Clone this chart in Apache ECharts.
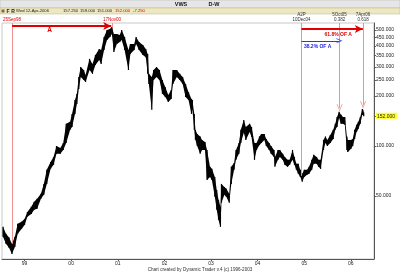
<!DOCTYPE html>
<html><head><meta charset="utf-8">
<script src="https://cdn.jsdelivr.net/npm/echarts@6/dist/echarts.min.js"></script>
<style>html,body{margin:0;padding:0;background:#fff}#c{width:400px;height:274px}</style>
</head><body><div id="c"></div>
<script>
// ---- data ----
const dates = ['1998-07-16','1998-08-08','1998-09-01','1998-09-24','1998-10-17','1998-11-08','1998-12-08','1999-01-01','1999-01-23','1999-02-23','1999-03-17','1999-04-09','1999-05-09','1999-06-01','1999-06-24','1999-07-24','1999-08-16','1999-09-08','1999-10-08','1999-10-31','1999-11-23','1999-12-24','2000-01-08','2000-01-31','2000-02-15','2000-03-01','2000-03-16','2000-04-08','2000-04-23','2000-05-24','2000-06-16','2000-07-09','2000-08-08','2000-08-23','2000-09-15','2000-10-08','2000-10-31','2000-11-15','2000-12-01','2000-12-24','2001-01-16','2001-01-31','2001-02-23','2001-03-25','2001-04-09','2001-05-09','2001-05-24','2001-06-16','2001-07-16','2001-08-08','2001-08-23','2001-09-01','2001-09-24','2001-10-08','2001-10-31','2001-11-23','2001-12-16','2002-01-08','2002-01-31','2002-02-23','2002-03-09','2002-04-08','2002-05-01','2002-05-24','2002-06-16','2002-07-09','2002-08-01','2002-08-08','2002-08-23','2002-09-01','2002-09-15','2002-10-08','2002-10-23','2002-11-15','2002-12-01','2002-12-24','2003-01-08','2003-01-31','2003-02-15','2003-03-01','2003-03-16','2003-03-24','2003-04-16','2003-05-01','2003-05-24','2003-06-09','2003-07-01','2003-07-16','2003-08-08','2003-08-23','2003-09-15','2003-10-01','2003-10-31','2003-11-15','2003-12-08','2003-12-24','2004-01-16','2004-01-31','2004-02-23','2004-03-09','2004-04-01','2004-04-16','2004-05-09','2004-05-16','2004-06-09','2004-06-24','2004-07-16','2004-08-01','2004-08-23','2004-09-09','2004-10-01','2004-10-16','2004-10-31','2004-11-15','2004-12-01','2004-12-16','2005-01-01','2005-01-23','2005-02-08','2005-03-01','2005-03-16','2005-04-08','2005-04-23','2005-05-09','2005-06-01','2005-06-16','2005-07-01','2005-07-24','2005-08-16','2005-09-01','2005-09-15','2005-10-01','2005-10-16','2005-10-31','2005-11-15','2005-12-01','2005-12-08','2006-01-01','2006-01-16','2006-01-31','2006-02-15','2006-03-01','2006-03-16','2006-04-01','2006-04-05','2006-04-12'];
const highs = [32.5,29.5,28.0,25.7,28.3,33.9,34.9,36.3,40.0,43.0,46.0,48.0,51.4,59.0,71.7,80.1,85.8,99.9,97.0,104.2,136,140,156,189,206,260,299,287,268,335,312,353,384,379,454,500,507,521,473,473,466,500,454,379,412,412,454,423,406,384,358,272,260,287,299,287,250,226,203,217,287,287,272,260,236,211,192,189,156,125,118,114,108.7,105.7,94.6,74.8,72.7,65.0,54.3,47.3,43.0,59.0,56.6,55.1,51.4,74.8,79.0,94.6,104.2,125,143.5,130,136,130,104.2,104.2,114,118,118,110,104.2,99.9,94.6,85.8,94.6,94.6,89.6,85.8,82.4,82.4,94.6,85.8,78.0,78.0,71.7,67.9,71.7,71.7,74.8,82.4,88.3,85.8,82.4,82.4,108.7,114,108.7,116.5,125,136,149.5,160.5,154,149.5,149.5,114,108.7,108.7,110.2,125,134,140,149.5,167,165,159];
const lows = [28.3,25.7,24.3,22.3,24.6,29.5,31.6,33.4,37.4,38.9,41.2,41.8,48.0,50.7,59.0,72.7,76.9,89.6,89.6,94.6,104.2,125,130,156,179,220,260,250,243,287,272,308,330,312,379,435,454,473,368,412,423,435,379,287,358,379,412,379,353,343,272,236,165,250,260,250,206,197,184,192,236,260,250,236,197,189,156,165,125,108.7,99.9,89.6,94.6,94.6,62.4,65.0,62.4,49.3,41.2,35.8,32.5,45.4,50.7,49.3,45.4,59.0,71.7,82.4,89.6,104.2,120,108.7,121.5,113.3,82.4,94.6,101.4,104.2,108.7,99.9,94.6,89.6,85.8,74.8,82.4,85.8,82.4,76.9,74.8,76.9,82.4,76.9,71.7,67.9,65.0,60.7,65.0,66.9,67.9,71.7,78.0,78.0,74.8,72.7,94.6,104.2,99.9,104.2,110.2,125,130,147.5,136,136,134,94.6,92.0,95.9,99.9,110.2,121.5,127,136,154,154,151];
const priceTicks = [50,100,152,200,250,300,350,400,450,500];
const yearTicks = ['1999-01-01','2000-01-01','2001-01-01','2002-01-01','2003-01-01','2004-01-01','2005-01-01','2006-01-01'];
const lastPrice = 152;
// annotations (time projections)
const vMarks = [
  {date:'1998-09-25', to:25.7, label:'25Sep98', red:true, arrow:false},
  {date:'2000-11-17', to:521, label:'17Nov00', red:true, arrow:false},
  {date:'2004-12-10', to:66.0, label:'A2P\n10Dec04', red:false, arrow:false},
  {date:'2005-10-05', to:169.6, label:'5Oct05\n0.382', red:false, arrow:true},
  {date:'2006-04-07', to:177, label:'7Apr06\n0.618', red:false, arrow:true}
];
const spans = [
  {from:'1998-09-25', to:'2000-11-10', level:528, color:'#e00000', width:2},
  {from:'2004-12-10', to:'2006-04-05', level:507, color:'#e00000', width:2},
  {from:'2004-12-10', to:'2005-10-03', level:430, color:'#3030ff', width:1}
];
const spanTexts = [
  {date:'1999-07-16', level:497, text:'A', color:'#e00000', size:6.5},
  {date:'2005-09-24', level:470, text:'61.8% OF A', color:'#e00000', size:5},
  {date:'2005-04-16', level:398, text:'38.2% OF A', color:'#2020e0', size:5}
];
const yMin = 20.8, yMax = 551;
const xMin = '1998-07-08', xMax = '2006-07-01';

// ---- chart ----
const L = Math.log10;
const T = d => { const p = d.split('-').map(Number); return Date.UTC(p[0], p[1]-1, p[2]); };
const ts = dates.map(T);
const chart = echarts.init(document.getElementById('c'), null, {renderer:'canvas'});
const FONT = 'Liberation Sans, Arial, sans-serif';
const chevron = 'path://M0,10 L5,0 L10,10 L8.6,10 L5,2.8 L1.4,10 Z';

const mlData = [];
vMarks.forEach(m => {
  mlData.push([
    {coord:[T(m.date), L(yMax)], symbol:'none',
     lineStyle:{color:'#f29090', width:1, type:'solid'},
     label:{show:true, position:'start', formatter:m.label, color:m.red?'#e00000':'#333',
            fontSize:4.5, lineHeight:4.6, distance:1, fontFamily:FONT}},
    {coord:[T(m.date), L(m.to)], symbol: m.arrow ? chevron : 'none', symbolSize:[6,7]}
  ]);
});
spans.forEach(s => {
  mlData.push([
    {coord:[T(s.from), L(s.level)], symbol:'none', lineStyle:{color:s.color, width:s.width, type:'solid'}, label:{show:false}},
    {coord:[T(s.to), L(s.level)], symbol: s.width>1 ? 'arrow' : chevron, symbolSize: s.width>1 ? [6,8] : [5,6]}
  ]);
});
const mpData = spanTexts.map(t => ({
  coord:[T(t.date), L(t.level)], symbol:'rect', symbolSize:0,
  label:{show:true, position:'inside', formatter:t.text, color:t.color, fontSize:t.size, fontWeight:'bold', fontFamily:FONT}
}));

const yTickVals = priceTicks.map(L);
const yearVals = yearTicks.map(T);
const hdr = (x, text, color) => ({type:'text', x, y:11.2, style:{text, fill:color||'#222', align:'left', verticalAlign:'middle', font:'4.2px Liberation Sans'}});

chart.setOption({
  animation:false,
  textStyle:{fontFamily:FONT},
  grid:{left:2, right:15, top:23, bottom:15, show:true, borderColor:'#c8c8c8', borderWidth:1},
  xAxis:{type:'value', min:T(xMin), max:T(xMax),
    axisLine:{show:true, lineStyle:{color:'#555', width:1}},
    axisTick:{show:true, customValues:yearVals, length:2, lineStyle:{color:'#555'}},
    axisLabel:{customValues:yearVals, fontSize:5, margin:2, color:'#222',
      formatter:v => String(new Date(v).getUTCFullYear()).slice(2)},
    splitLine:{show:false}},
  yAxis:{type:'value', position:'right', min:L(yMin), max:L(yMax),
    axisLine:{show:true, lineStyle:{color:'#555', width:1}},
    axisTick:{show:true, customValues:yTickVals, length:2, lineStyle:{color:'#555'}},
    axisLabel:{customValues:yTickVals, fontSize:5, margin:2, color:'#222',
      formatter:v => { const p = Math.pow(10,v); const s = p.toFixed(3);
        return Math.abs(p-lastPrice) < 0.5 ? '{hl|'+s+'}' : s; },
      rich:{hl:{backgroundColor:'#ffff20', fontSize:5, padding:[1,2,0,1], color:'#222'}}},
    splitLine:{show:false}},
  graphic:[
    {type:'rect', shape:{x:0,y:0,width:400,height:8}, style:{fill:'#e6e6e6', stroke:'#b0b0b0', lineWidth:0.5}, silent:true},
    {type:'text', x:181, y:4, style:{text:'VWS', fill:'#111', align:'center', verticalAlign:'middle', font:'bold 5.5px Liberation Sans'}},
    {type:'text', x:214, y:4, style:{text:'D-W', fill:'#111', align:'center', verticalAlign:'middle', font:'bold 5.5px Liberation Sans'}},
    {type:'rect', shape:{x:0,y:8,width:400,height:6}, style:{fill:'#ece8c2', stroke:'#b8b48e', lineWidth:0.5}, silent:true},
    {type:'rect', shape:{x:1.5,y:9.5,width:3,height:3}, style:{fill:'#8a6a3a'}},
    {type:'text', x:8, y:11.2, style:{text:'F', fill:'#222', align:'center', verticalAlign:'middle', font:'bold 5px Liberation Sans'}},
    {type:'text', x:13, y:11.2, style:{text:'R', fill:'#222', align:'center', verticalAlign:'middle', font:'bold 5px Liberation Sans'}},
    hdr(16, 'Wed 12-Apr-2006'), hdr(63, '157.250'), hdr(80, '159.000'), hdr(97, '151.000'),
    hdr(115, '152.000', '#e00000'), hdr(133, '-7.250', '#e00000'),
    {type:'text', x:200, y:270, style:{text:'Chart created by Dynamic Trader v.4 (c) 1996-2003', fill:'#333', align:'center', verticalAlign:'middle', font:'4.6px Liberation Sans'}}
  ],
  series:[
    {type:'custom', silent:true,
     data: ts.map((t,i) => [t, L(highs[i]), L(lows[i])]),
     renderItem:(params, api) => {
       const i = params.dataIndex;
       const h0 = api.coord([api.value(0), api.value(1)]);
       const l0 = api.coord([api.value(0), api.value(2)]);
       const children = [{type:'line', shape:{x1:h0[0], y1:h0[1], x2:l0[0], y2:l0[1]}, style:{stroke:'#000', lineWidth:1.2}}];
       if (i < ts.length-1) {
         const h1 = api.coord([ts[i+1], L(highs[i+1])]);
         const l1 = api.coord([ts[i+1], L(lows[i+1])]);
         children.push({type:'polygon', shape:{points:[h0,h1,l1,l0]}, style:{fill:'#000', lineWidth:0}});
       }
       return {type:'group', children};
     }},
    {type:'line', data:[[ts[0], L(highs[0])]], showSymbol:false, silent:true,
     lineStyle:{opacity:0, width:0},
     markLine:{silent:true, animation:false, data:mlData, precision:4},
     markPoint:{silent:true, animation:false, data:mpData}}
  ]
});
</script></body></html>
